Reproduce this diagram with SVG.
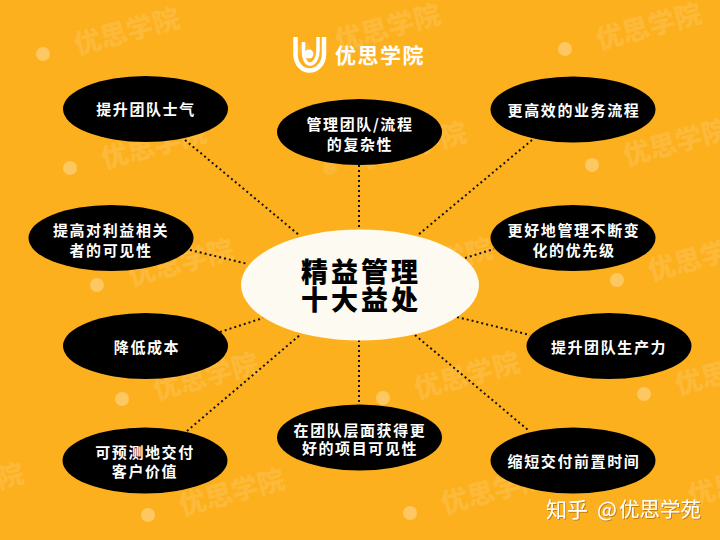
<svg xmlns="http://www.w3.org/2000/svg" width="720" height="540" viewBox="0 0 720 540">
<defs>
<filter id="ds" x="-10%" y="-30%" width="120%" height="160%"><feDropShadow dx="1" dy="1" stdDeviation="0.6" flood-color="#a86a00" flood-opacity="0.7"/></filter>
<g id="wm"><circle cx="-84" cy="22" r="7" fill="#fff" fill-opacity="0.3"/><text class="wm" transform="rotate(-15)" text-anchor="middle" y="9">优思学院</text></g>
<g id="wmf"><circle cx="-84" cy="22" r="7" fill="#fff" fill-opacity="0.1"/><text class="wm" transform="rotate(-15)" text-anchor="middle" y="9">优思学院</text></g>
</defs>
<style>
text{font-family:"Noto Sans CJK SC","Noto Sans",sans-serif}
.wm{font-size:27px;font-weight:900;fill:#fff;fill-opacity:0.13}
.n{fill:#000}
.t{font-size:15px;font-weight:700;fill:#fff;letter-spacing:1.6px;text-anchor:middle}
.title{font-size:27px;font-weight:900;fill:#000;letter-spacing:3px;text-anchor:middle}
.c{fill:none;stroke:#111;stroke-width:2;stroke-dasharray:2 3}
</style>
<rect width="720" height="540" fill="#FCB01E"/>
<g id="watermarks">
<use href="#wm" x="127" y="32"/>
<use href="#wm" x="154" y="146"/>
<use href="#wm" x="649" y="27"/>
<use href="#wm" x="676" y="143"/>
<use href="#wm" x="701" y="258"/>
<use href="#wm" x="181" y="263"/>
<use href="#wm" x="206" y="377"/>
<use href="#wm" x="232" y="493"/>
<use href="#wm" x="467" y="376"/>
<use href="#wm" x="494" y="491"/>
<use href="#wm" x="728" y="372"/>
<use href="#wmf" x="414" y="146"/>
<use href="#wmf" x="388" y="28"/>
<use href="#wm" x="440" y="262"/>
<use href="#wm" x="-29" y="487"/>
<use href="#wmf" x="741" y="483"/>
</g>
<g id="connectors">
<path class="c" d="M185 140L299 235"/>
<path class="c" d="M359 165V229"/>
<path class="c" d="M532 140L418 235"/>
<path class="c" d="M190 250L248 264"/>
<path class="c" d="M465 258L494 249"/>
<path class="c" d="M220 332L263 318"/>
<path class="c" d="M457 317L530 335"/>
<path class="c" d="M187 431L300 335"/>
<path class="c" d="M359 340V405"/>
<path class="c" d="M415 335L528 430"/>
</g>
<g id="logo">
<path d="M295.500 37V54C295.500 64 302 70.500 309.500 70.500C317 70.500 324 64 324 54V37" fill="none" stroke="#fff" stroke-width="4.500"/>
<path d="M303.500 42V51C303.500 59 306 64 310 64C315 64 318 57 318 50V37" fill="none" stroke="#fff" stroke-width="3.500"/>
<circle cx="309" cy="54" r="4.500" fill="#fff"/>
<text x="335" y="63" font-size="21" font-weight="700" fill="#fff" letter-spacing="1.500">优思学院</text>
</g>
<g id="center"><ellipse cx="360" cy="285" rx="119" ry="55.500" fill="#FDFBF1"/><text class="title" x="361" y="282">精益管理</text><text class="title" x="361" y="310">十大益处</text></g>
<g id="n1"><ellipse class="n" cx="145.500" cy="109" rx="82.500" ry="33"/><text class="t" x="146" y="115">提升团队士气</text></g>
<g id="n2"><ellipse class="n" cx="359.500" cy="132" rx="82.500" ry="33"/><text class="t" x="360" y="129.500">管理团队/流程</text><text class="t" x="360" y="149.500">的复杂性</text></g>
<g id="n3"><ellipse class="n" cx="573" cy="109.500" rx="82.500" ry="33"/><text class="t" x="574" y="116">更高效的业务流程</text></g>
<g id="n4"><ellipse class="n" cx="111" cy="238" rx="82.500" ry="33"/><text class="t" x="111" y="235.500">提高对利益相关</text><text class="t" x="111" y="255.500">者的可见性</text></g>
<g id="n5"><ellipse class="n" cx="573" cy="238" rx="82.500" ry="33"/><text class="t" x="574" y="235.500">更好地管理不断变</text><text class="t" x="574" y="255.500">化的优先级</text></g>
<g id="n6"><ellipse class="n" cx="145.500" cy="346" rx="82.500" ry="33"/><text class="t" x="147" y="352.500">降低成本</text></g>
<g id="n7"><ellipse class="n" cx="609" cy="346" rx="82.500" ry="33"/><text class="t" x="609" y="352.500">提升团队生产力</text></g>
<g id="n8"><ellipse class="n" cx="145" cy="460.500" rx="82.500" ry="33"/><text class="t" x="145" y="457.500">可预测地交付</text><text class="t" x="145" y="476.500">客户价值</text></g>
<g id="n9"><ellipse class="n" cx="359.500" cy="437.500" rx="82.500" ry="33"/><text class="t" x="360" y="435.500">在团队层面获得更</text><text class="t" x="360" y="453.500">好的项目可见性</text></g>
<g id="n10"><ellipse class="n" cx="573" cy="460.500" rx="82.500" ry="33"/><text class="t" x="574" y="466.500">缩短交付前置时间</text></g>
<text id="credit" y="517" font-size="21" fill="#fff" filter="url(#ds)"><tspan x="546">知乎</tspan> <tspan x="597">@</tspan><tspan x="619" font-size="20.500">优思学苑</tspan></text>
</svg>
